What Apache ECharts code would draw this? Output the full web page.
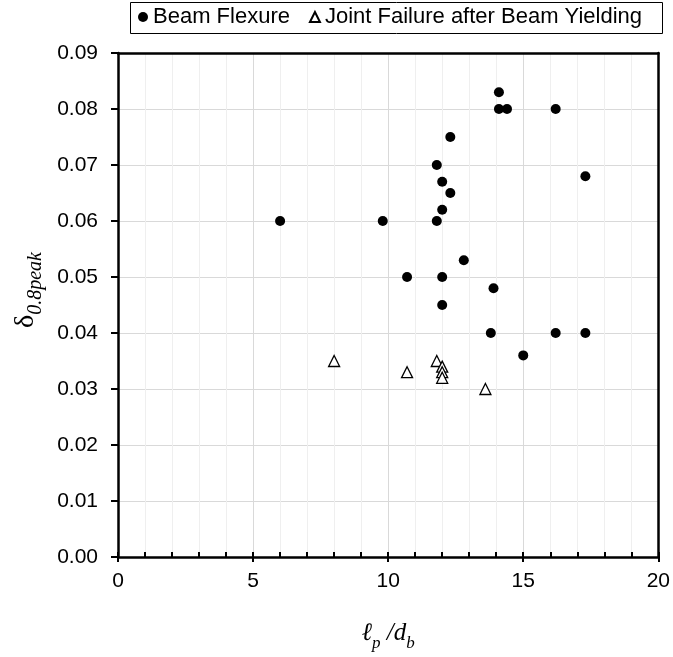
<!DOCTYPE html>
<html>
<head>
<meta charset="utf-8">
<script src="https://cdn.jsdelivr.net/npm/echarts@6/dist/echarts.min.js"></script>
<style>html,body{margin:0;padding:0;background:#fff}#c{width:673px;height:657px}</style>
</head>
<body>
<div id="c"></div>
<script>
var beamX = [6.0, 9.8, 10.7, 11.8, 11.8, 12.0, 12.0, 12.0, 12.0, 12.3, 12.3, 12.8, 13.8, 13.9, 14.1, 14.1, 14.4, 15.0, 16.2, 16.2, 17.3, 17.3];
var beamY = [0.060, 0.060, 0.050, 0.070, 0.060, 0.067, 0.062, 0.050, 0.045, 0.075, 0.065, 0.053, 0.040, 0.048, 0.083, 0.080, 0.080, 0.036, 0.080, 0.040, 0.068, 0.040];
var jointX = [8.0, 10.7, 11.8, 12.0, 12.0, 12.0, 13.6];
var jointY = [0.035, 0.033, 0.035, 0.034, 0.033, 0.032, 0.030];
var xTicks = [0, 5, 10, 15, 20];
var yTicks = [0.00, 0.01, 0.02, 0.03, 0.04, 0.05, 0.06, 0.07, 0.08, 0.09];
var seriesNames = ['Beam Flexure', 'Joint Failure after Beam Yielding'];

function pairs(xs, ys) { return xs.map(function (x, i) { return [x, ys[i]]; }); }

var chart = echarts.init(document.getElementById('c'));
var sans = 'Arial, "Liberation Sans", sans-serif';
var serif = '"Liberation Serif", "Times New Roman", serif';
var labelFont = { fontFamily: sans, fontSize: 21, color: '#000' };
var xMin = xTicks[0], xMax = xTicks[xTicks.length - 1];
var yMin = yTicks[0], yMax = yTicks[yTicks.length - 1];
chart.setOption({
  animation: false,
  backgroundColor: '#fff',
  graphic: [{
    type: 'rect', shape: { x: 130.5, y: 2.5, width: 532, height: 31 },
    style: { fill: 'none', stroke: '#000', lineWidth: 1 }
  }],
  legend: {
    data: seriesNames,
    left: 138, top: 6,
    padding: 0,
    itemWidth: 10, itemHeight: 10, itemGap: 19,
    textStyle: { fontFamily: sans, fontSize: 22, color: '#000' }
  },
  grid: { left: 118, right: 13, top: 53, bottom: 100 },
  xAxis: [{
    type: 'value', min: xMin, max: xMax, interval: 5,
    axisLine: { show: true, onZero: false, lineStyle: { color: '#000', width: 2.5 } },
    axisTick: { show: true, inside: true, length: 5, lineStyle: { color: '#000', width: 2 } },
    minorTick: { show: true, splitNumber: 5, length: 5, lineStyle: { color: '#000', width: 2 } },
    splitLine: { show: true, lineStyle: { color: '#d9d9d9', width: 1 } },
    minorSplitLine: { show: true, lineStyle: { color: '#efefef', width: 1 } },
    axisLabel: Object.assign({ margin: 14 }, labelFont),
    name: '{i|ℓ}{s|p}{i| /d}{s|b}',
    nameLocation: 'middle', nameGap: 59,
    nameTextStyle: {
      rich: {
        i: { fontFamily: serif, fontStyle: 'italic', fontSize: 25, color: '#000', verticalAlign: 'bottom', lineHeight: 30 },
        s: { fontFamily: serif, fontStyle: 'italic', fontSize: 17, color: '#000', verticalAlign: 'bottom', lineHeight: 30, padding: [0, 0, -6, 0] }
      }
    }
  }, {
    type: 'value', position: 'bottom', min: xMin, max: xMax, interval: 5,
    axisLine: { show: false },
    axisTick: { show: true, inside: false, length: 5, lineStyle: { color: '#000', width: 2 } },
    axisLabel: { show: false }, splitLine: { show: false }
  }, {
    type: 'value', position: 'top', min: xMin, max: xMax, interval: 5,
    axisLine: { show: true, onZero: false, lineStyle: { color: '#000', width: 2.5 } },
    axisTick: { show: false }, axisLabel: { show: false }, splitLine: { show: false }
  }],
  yAxis: [{
    type: 'value', min: yMin, max: yMax, interval: 0.01,
    axisLine: { show: true, onZero: false, lineStyle: { color: '#000', width: 2.5 } },
    axisTick: { show: true, inside: false, length: 7, lineStyle: { color: '#000', width: 2 } },
    splitLine: { show: true, lineStyle: { color: '#d9d9d9', width: 1 } },
    axisLabel: Object.assign({ margin: 20, formatter: function (v) { return v.toFixed(2); } }, labelFont),
    name: '{d|δ}{s|0.8peak}',
    nameLocation: 'middle', nameGap: 78, nameRotate: 90,
    nameTextStyle: {
      padding: [0, 0, 0, 30],
      rich: {
        d: { fontFamily: serif, fontSize: 28, color: '#000', verticalAlign: 'bottom', lineHeight: 32 },
        s: { fontFamily: serif, fontStyle: 'italic', fontSize: 20, color: '#000', verticalAlign: 'bottom', lineHeight: 32, padding: [0, 0, -6, 0] }
      }
    }
  }, {
    type: 'value', position: 'right', min: yMin, max: yMax, interval: 0.01,
    axisLine: { show: true, onZero: false, lineStyle: { color: '#000', width: 2.5 } },
    axisTick: { show: false }, axisLabel: { show: false }, splitLine: { show: false }
  }],
  series: [{
    name: seriesNames[0], type: 'scatter', symbol: 'circle', symbolSize: 10,
    itemStyle: { color: '#000', opacity: 1 },
    data: pairs(beamX, beamY)
  }, {
    name: seriesNames[1], type: 'scatter', symbol: 'triangle', symbolSize: 11,
    itemStyle: { color: '#fff', borderColor: '#000', borderWidth: 1.3, opacity: 1 },
    data: pairs(jointX, jointY)
  }]
});
</script>
</body>
</html>
